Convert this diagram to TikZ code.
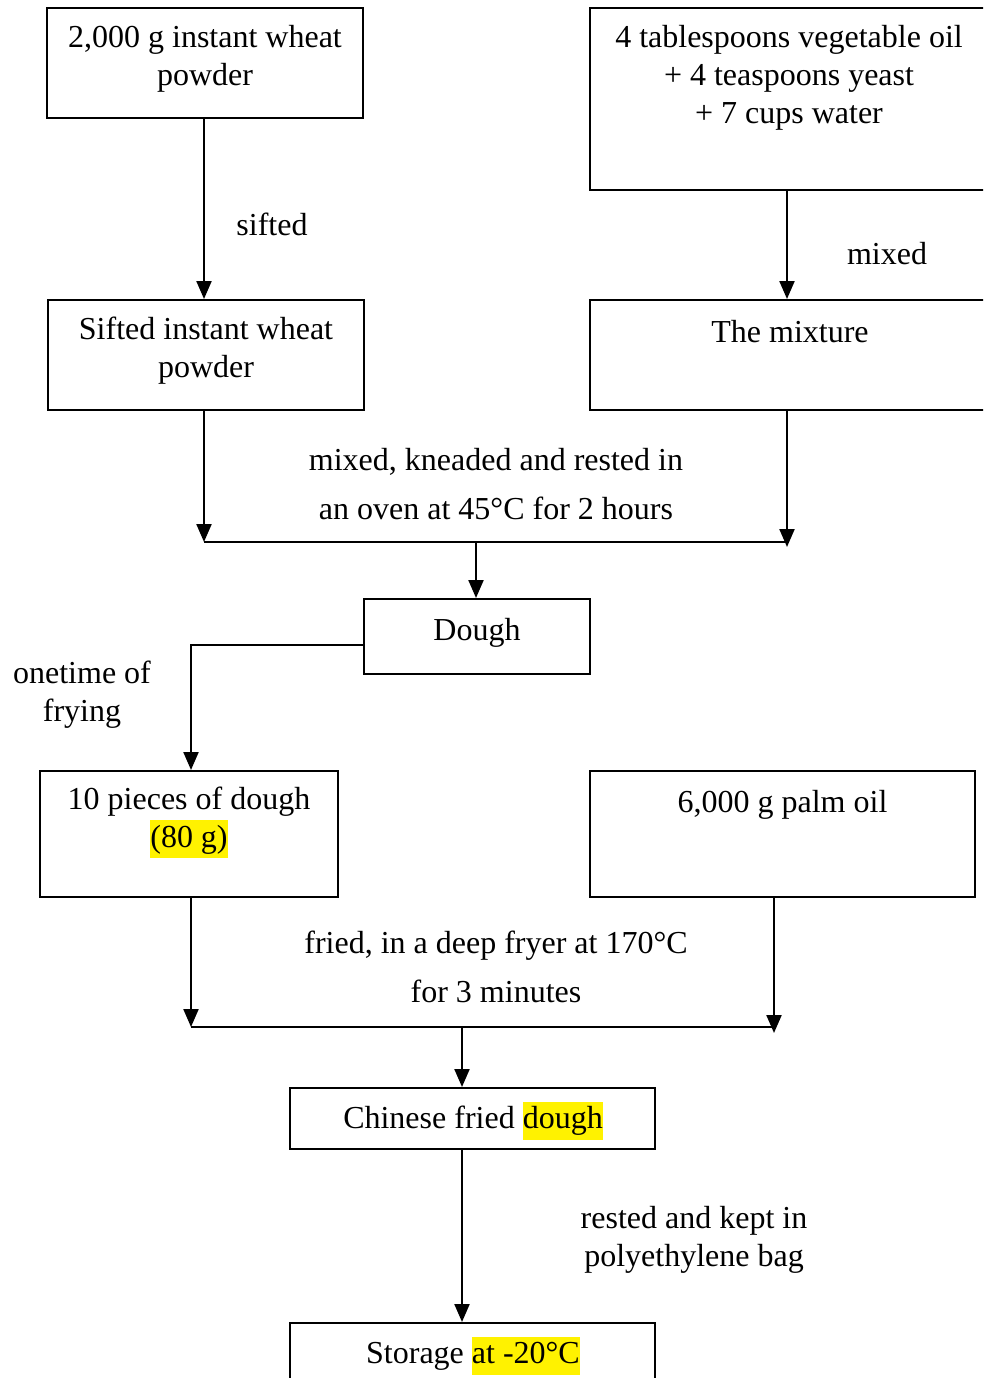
\documentclass[tikz,border=0pt]{standalone}
\usepackage{fontspec}
\setmainfont{Liberation Serif}
\usetikzlibrary{arrows.meta}
\newcommand\hlt[1]{{\setlength{\fboxsep}{0pt}\colorbox{yellow}{\strut #1}}}
\begin{document}
\begin{tikzpicture}[x=1pt,y=-1pt,
  box/.style={draw, line width=2pt, inner sep=0pt, rectangle},
  txt/.style={inner sep=0pt, align=center, font=\fontsize{32}{38}\selectfont},
  wtxt/.style={inner sep=0pt, align=center, font=\fontsize{32}{49}\selectfont},
  arr/.style={line width=2.2pt, -{Triangle[length=18pt,width=15pt]}},
  ln/.style={line width=2.2pt}]
\clip (0,0) rectangle (983,1378);
\fill[white] (0,0) rectangle (983,1378);
% boxes
\node[box, minimum width=316pt, minimum height=110pt] (a) at (205,63) {};
\node[box, minimum width=398pt, minimum height=182pt] (b) at (789,99) {};
\node[box, minimum width=316pt, minimum height=110pt] (a2) at (206,355) {};
\node[box, minimum width=398pt, minimum height=110pt] (b2) at (789,355) {};
\node[box, minimum width=226pt, minimum height=75pt] (dough) at (477,636.5) {};
\node[box, minimum width=298pt, minimum height=126pt] (c) at (189,834) {};
\node[box, minimum width=385pt, minimum height=126pt] (d) at (782.5,834) {};
\node[box, minimum width=365pt, minimum height=61pt] (e) at (472.5,1118.5) {};
\node[box, minimum width=365pt, minimum height=77pt] (f) at (472.5,1361.5) {};
% box texts
\node[txt] (ta) at (205,59) {2,000 g instant wheat\\powder};
\node[txt] (tb) at (789,78) {4 tablespoons vegetable oil\\+ 4 teaspoons yeast\\+ 7 cups water};
\node[txt] (ta2) at (206,351) {Sifted instant wheat\\powder};
\node[txt] (tb2) at (790,332) {The mixture};
\node[txt] (td) at (477,632.5) {Dough};
\node[txt] (tc) at (189,822.5) {10 pieces of dough\\\hlt{(80 g)}};
\node[txt] (tdd) at (782.5,805) {6,000 g palm oil};
\node[txt] (te) at (473,1121) {Chinese fried \hlt{dough}};
\node[txt] (tf) at (473,1356) {Storage \hlt{at -20°C}};
% junctions
\coordinate (j1) at (476,542);
\coordinate (j2) at (462,1027);
% connectors
\draw[arr] ([xshift=-1pt]a.south) -- ([xshift=-1pt]a.south |- a2.north);
\draw[arr] ([xshift=-2pt]b.south) -- ([xshift=-2pt]b2.north);
\draw[arr] ([xshift=-2pt]a2.south) -- ([xshift=-2pt]a2.south |- j1);
\draw[arr] ([xshift=-2pt]b2.south) -- ([xshift=-2pt,yshift=-5pt]b2.south |- j1);
\draw[ln] ([xshift=-2pt]a2.south |- j1) -- ([xshift=-2pt]b2.south |- j1);
\draw[arr] (j1) -- (j1 |- dough.north);
\draw[arr] ([yshift=-8.5pt]dough.west) -| ([xshift=2pt]c.north);
\draw[arr] ([xshift=2pt]c.south) -- ([xshift=2pt]c.south |- j2);
\draw[arr] ([xshift=-8.5pt]d.south) -- ([xshift=-8.5pt,yshift=-6pt]d.south |- j2);
\draw[ln] ([xshift=2pt]c.south |- j2) -- ([xshift=-8.5pt]d.south |- j2);
\draw[arr] (j2) -- (j2 |- e.north);
\draw[arr] ([xshift=-10.5pt]e.south) -- ([xshift=-10.5pt]f.north);
% labels
\node[txt] (l1) at (272,224) {sifted};
\node[txt] (l2) at (887,254) {mixed};
\node[wtxt] (l3) at (496,484) {mixed, kneaded and rested in\\an oven at 45°C for 2 hours};
\node[txt] (l4) at (82,695) {onetime of\\frying};
\node[wtxt] (l5) at (496,967) {fried, in a deep fryer at 170°C\\for 3 minutes};
\node[txt] (l6) at (694,1240) {rested and kept in\\polyethylene bag};
\end{tikzpicture}
\end{document}
